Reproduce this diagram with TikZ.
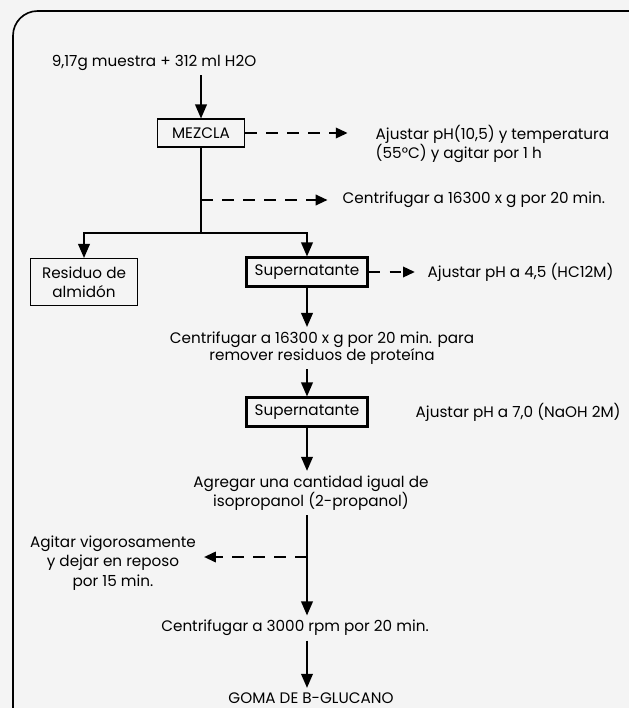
\documentclass[tikz,border=0pt]{standalone}
\usepackage{fontspec}
\setmainfont{Poppins}
\usetikzlibrary{arrows.meta,calc}

\begin{document}
\begin{tikzpicture}[x=0.03cm, y=-0.03cm, >={Triangle[width=10pt,length=12pt]},
    line width=1.4pt, font=\fontsize{13}{16.5}\selectfont,
    box/.style={draw, line width=0.9pt, inner sep=0pt},
    supbox/.style={draw, line width=1.8pt, inner sep=0pt,
      minimum width=3.63cm, minimum height=0.87cm},
    side/.style={dash pattern=on 10pt off 8pt,
      -{Triangle[width=9pt,length=10pt]}}]
  \useasboundingbox (0,0) rectangle (629,708);
  \clip (0,0) rectangle (629,708);
  \fill[gray!9] (0,0) rectangle (629,708);
  \draw[line width=1.4pt, rounded corners=21pt] (13,11) rectangle (660,740);

  % main line
  \node (in) at (154,63) {9,17g muestra + 312 ml H2O};
  \node[box, minimum width=2.61cm, minimum height=0.84cm] (mezcla)
    at (201,133) {MEZCLA};
  \node[anchor=west, align=left] (ajuste1) at (371,144)
    {Ajustar pH(10,5) y temperatura\\(55°C) y agitar por 1 h};
  \coordinate (j1) at (201,200);
  \node[anchor=west] (centr1) at (338,200)
    {Centrifugar a 16300 x g por 20 min.};
  \coordinate (split) at (201,233);

  % two branches
  \node[box, align=center, minimum width=3.21cm, minimum height=1.41cm]
    (residuo) at (84,282) {Residuo de\\almidón};
  \node[supbox] (super1) at (307,272) {Supernatante};
  \node[anchor=west] (ajuste2) at (423,272) {Ajustar pH a 4,5 (HC12M)};
  \node[align=center, font=\fontsize{13}{14.5}\selectfont] (centr2)
    at (322,348)
    {Centrifugar a 16300 x g por 20 min. para\\remover residuos de proteína};
  \node[supbox] (super2) at (307,412) {Supernatante};
  \node[anchor=west] (ajuste3) at (411,412) {Ajustar pH a 7,0 (NaOH 2M)};
  \node[align=center] (agregar) at (311,493)
    {Agregar una cantidad igual de\\isopropanol (2-propanol)};
  \coordinate (j2) at (307,557);
  \node[align=center] (agitar) at (113,563)
    {Agitar vigorosamente\\y dejar en reposo\\por 15 min.};
  \node (centr3) at (295,628) {Centrifugar a 3000 rpm por 20 min.};
  \node (goma) at (311,698) {GOMA DE B-GLUCANO};

  \draw[->] (in.south -| mezcla) -- (mezcla.north);
  \draw[side, shorten >=20pt] (mezcla.east) -- (mezcla.east -| ajuste1.west);
  \draw (mezcla.south) -- (split);
  \draw[side, shorten >=9pt] (j1) -- (centr1.west);
  \draw[->] (split) -| (residuo.north);
  \draw[->] (split) -| (super1.north);
  \draw[side, shorten >=7pt] (super1.east) -- (ajuste2.west);
  \draw[->] (super1.south) -- (super1.south |- centr2.north);
  \draw[->] (super1.south |- centr2.south) -- (super2.north);
  \draw[->] (super2.south) -- (super2.south |- agregar.north);
  \draw[->] (super2.south |- agregar.south) -- (super2.south |- centr3.north);
  \draw[side, shorten >=3pt] (j2) -- (agitar.east |- j2);
  \draw[->] (super2.south |- centr3.south) -- (super2.south |- goma.north);
\end{tikzpicture}
\end{document}
